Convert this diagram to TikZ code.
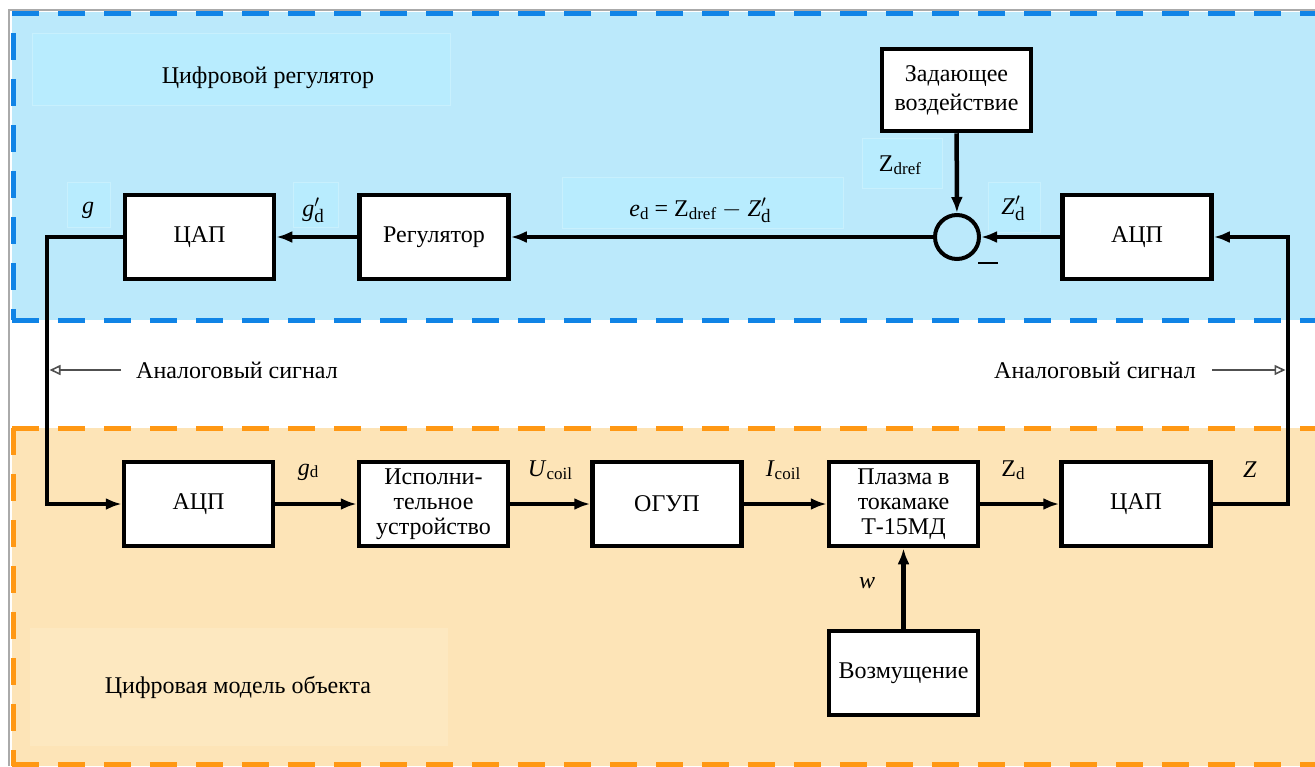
\documentclass[tikz,border=0pt]{standalone}
\usepackage{fontspec}
\setmainfont{Liberation Serif}
\newfontfamily\tnr{Liberation Serif}
\usetikzlibrary{arrows.meta}
\definecolor{blueband}{RGB}{187,233,251}
\definecolor{bluelbl}{RGB}{184,236,254}
\definecolor{bluelblb}{RGB}{200,240,253}
\definecolor{bluedash}{RGB}{16,132,230}
\definecolor{orangeband}{RGB}{253,228,183}
\definecolor{orangelbl}{RGB}{253,232,192}
\definecolor{orangedash}{RGB}{255,152,20}
\definecolor{framegray}{RGB}{170,170,170}
\definecolor{analoggray}{RGB}{80,80,80}
\newcommand\sbs[1]{\raisebox{-0.12em}{\fontsize{17}{17}\selectfont #1}}
\newcommand\prd[1]{\textit{#1}\makebox[0pt][l]{\raisebox{0.02em}{$'$}}\raisebox{-0.22em}{\fontsize{19}{19}\selectfont d}}
\begin{document}
\begin{tikzpicture}[x=1pt,y=-1pt,
  font=\tnr\fontsize{24}{25}\selectfont,
  blk/.style={draw, line width=4.5pt, fill=white, minimum width=149pt,
    minimum height=84pt, inner sep=2pt, align=center},
  lbl/.style={inner sep=0pt},
  conn/.style={line width=4.5pt, -{Latex[length=16pt,width=12pt]}},
  analog/.style={line width=1.6pt, draw=analoggray,
    -{Triangle[open,length=11pt,width=10pt,line width=1.6pt]}},
  bdash/.style={draw=bluedash, line width=5pt, dash pattern=on 27pt off 19pt},
  odash/.style={draw=orangedash, line width=5pt, dash pattern=on 27pt off 19pt},
  blbl/.style={fill=bluelbl, draw=bluelblb, line width=1pt},
  olbl/.style={fill=orangelbl, draw=orangelbl, line width=1pt}]
\useasboundingbox (0,0) rectangle (1315,766);
\fill[white] (0,0) rectangle (1315,766);
% bands
\fill[blueband] (12,12) rectangle (1315,320);
\fill[orangeband] (12,428) rectangle (1315,766);
% frame
\draw[framegray, line width=1.5pt] (9,766) -- (9,10) -- (1315,10);
\draw[bdash] (12,13) -- (1315,13);
\draw[bdash] (13,33) -- (13,320);
\draw[bdash] (12,320) -- (1315,320);
\draw[odash] (12,428) -- (1315,428);
\draw[odash] (13,428) -- (13,766);
\draw[odash] (12,764) -- (1315,764);
% label backgrounds
\path[blbl] (32,33) rectangle (450,105);
\path[blbl] (67,182) rectangle (110,227);
\path[blbl] (293,182) rectangle (338,227);
\path[blbl] (562,177) rectangle (843,228);
\path[blbl] (862,138) rectangle (942,188);
\path[blbl] (988,182) rectangle (1040,232);
\path[olbl] (30,628) rectangle (447,745);
% blocks
\node[blk] (dac1) at (199.5,237) {ЦАП};
\node[blk] (reg) at (434,237) {Регулятор};
\node[draw, circle, line width=4pt, fill=blueband, minimum size=44pt, inner sep=0pt] (sum) at (957,237) {};
\node[blk, minimum height=82pt, font=\tnr\fontsize{24}{29}\selectfont] (ref) at (956.5,90) {Задающее\\воздействие};
\node[blk] (adc1) at (1137,237) {АЦП};
\node[blk] (adc2) at (198.5,504) {АЦП};
\node[blk] (act) at (433.5,504) {Исполни-\\тельное\\устройство};
\node[blk] (ogup) at (667,504) {ОГУП};
\node[blk] (plasma) at (903.5,504) {Плазма в\\токамаке\\Т-15МД};
\node[blk] (dac2) at (1136,504) {ЦАП};
\node[blk] (dist) at (903.5,673) {Возмущение};
% coordinates
\coordinate (lc) at (47,237);
\coordinate (rc) at (1288,504);
\coordinate (a1s) at (121,370);
\coordinate (a1e) at (49.5,370);
\coordinate (a2s) at (1212,370);
\coordinate (a2e) at (1285.5,370);
% connectors
\draw[conn] (reg) -- (dac1);
\draw[conn] (sum) -- (reg);
\draw[conn] (adc1) -- (sum);
\draw[conn] (ref) -- (sum);
\draw[conn] (dac1.west) -- (lc) |- (adc2.west);
\draw[conn] (dac2.east) -- (rc) |- (adc1.east);
\draw[conn] (adc2) -- (act);
\draw[conn] (act) -- (ogup);
\draw[conn] (ogup) -- (plasma);
\draw[conn] (plasma) -- (dac2);
\draw[conn] (dist) -- (plasma);
\draw[analog] (a1s) -- (a1e);
\draw[analog] (a2s) -- (a2e);
% labels
\node[lbl] (t1) at (268,78) {Цифровой регулятор};
\node[lbl] (t2) at (238,687) {Цифровая модель объекта};
\node[lbl, anchor=west] (an1) at (136,370) {Аналоговый сигнал};
\node[lbl, anchor=east] (an2) at (1196,370) {Аналоговый сигнал};
\node[lbl] (lg) at (88,210) {\textit{g}};
\node[lbl] (lgd) at (313,210) {\prd{g}};
\node[lbl] (led) at (700,210) {\textit{e}\sbs{d} = Z\sbs{dref} $-$ \prd{Z}};
\node[lbl] (lzr) at (900,165) {Z\sbs{dref}};
\node[lbl] (lzd) at (1013,208) {\prd{Z}};
\node[lbl] (lmin) at (988,263) {\rule{20pt}{1.6pt}};
\node[lbl] (lgd2) at (308,472) {\textit{g}\sbs{d}};
\node[lbl] (luc) at (550,470) {\textit{U}\sbs{coil}};
\node[lbl] (lic) at (783,470) {\textit{I}\sbs{coil}};
\node[lbl] (lzd2) at (1013,470) {Z\sbs{d}};
\node[lbl] (lz) at (1250,470) {\textit{Z}};
\node[lbl] (lw) at (867,583) {\textit{w}};
\end{tikzpicture}
\end{document}
